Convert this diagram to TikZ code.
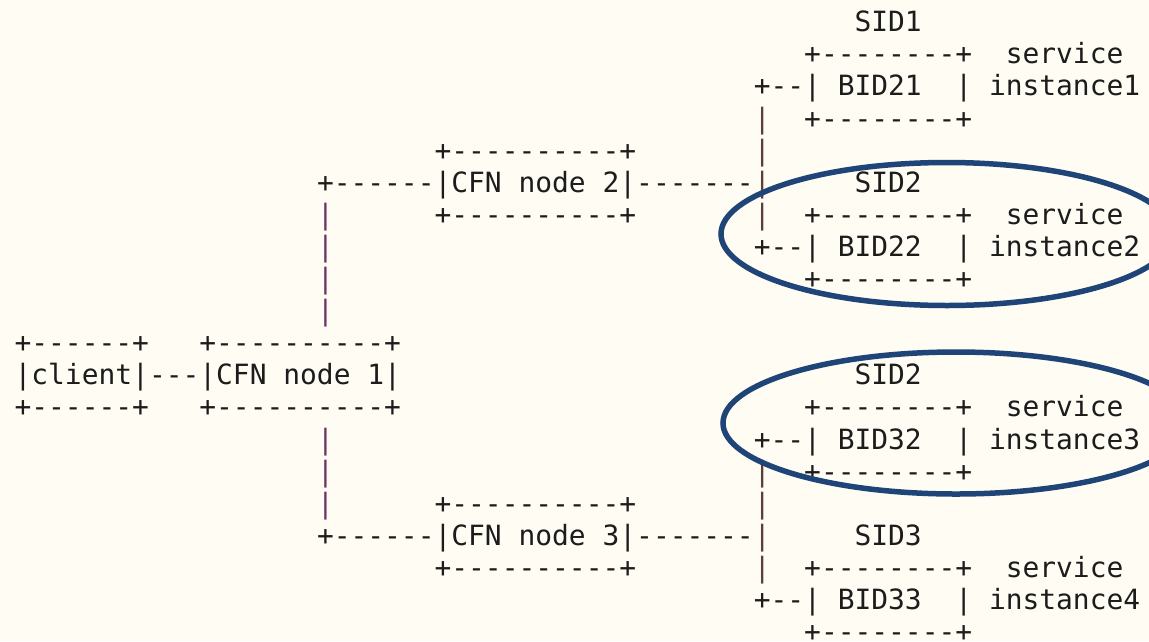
\documentclass[tikz,border=0pt]{standalone}
\usepackage{fontspec}
\setmonofont{DejaVu Sans Mono}
\definecolor{paper}{HTML}{FFFCF3}
\definecolor{ink}{HTML}{1C1C1C}
\definecolor{barpurple}{HTML}{6E3468}
\definecolor{barbrown}{HTML}{5A403C}
\definecolor{ringblue}{HTML}{1F4478}
\tikzset{
  asc/.style={anchor=base west, inner sep=0pt, outer sep=0pt, text=ink,
    font=\ttfamily\fontsize{27.9}{32.1}\selectfont},
  lbar/.style={asc, text=barpurple},
  rbar/.style={asc, text=barbrown},
  ring/.style={draw=ringblue, line width=5.5pt},
}
% one run of monospaced characters: name, column, row, text
\newcommand\asc[5][]{\node[asc,#1] (#2) at ({14.6+16.8*(#3)},{31.7+32.1*(#4)}) {#5};}
\begin{document}
\begin{tikzpicture}[x=1pt,y=-1pt]
\useasboundingbox (0,0) rectangle (1149,641);
\fill[paper] (0,0) rectangle (1149,641);
\clip (0,0) rectangle (1149,641);

% client and CFN node 1
\asc{clt}{0}{10}{+------+}
\asc{clm}{0}{11}{|client|}
\asc{clb}{0}{12}{+------+}
\asc{cln}{8}{11}{---}
\asc{n1t}{11}{10}{+----------+}
\asc{n1m}{11}{11}{|CFN~node~1|}
\asc{n1b}{11}{12}{+----------+}

% branch up to CFN node 2
\asc{upa}{18}{5}{+------}
\asc[lbar]{upb}{18}{6}{|}
\asc[lbar]{upc}{18}{7}{|}
\asc[lbar]{upd}{18}{8}{|}
\asc[lbar]{upe}{18}{9}{|}

% branch down to CFN node 3
\asc[lbar]{dna}{18}{13}{|}
\asc[lbar]{dnb}{18}{14}{|}
\asc[lbar]{dnc}{18}{15}{|}
\asc{dnd}{18}{16}{+------}

% CFN node 2
\asc{n2t}{25}{4}{+----------+}
\asc{n2m}{25}{5}{|CFN~node~2|}
\asc{n2b}{25}{6}{+----------+}
\asc{n2r}{37}{5}{-------}

% CFN node 3
\asc{n3t}{25}{15}{+----------+}
\asc{n3m}{25}{16}{|CFN~node~3|}
\asc{n3b}{25}{17}{+----------+}
\asc{n3r}{37}{16}{-------}

% upper trunk
\asc{tua}{44}{2}{+--}
\asc[rbar]{tub}{44}{3}{|}
\asc[rbar]{tuc}{44}{4}{|}
\asc[rbar]{tud}{44}{5}{|}
\asc[rbar]{tue}{44}{6}{|}
\asc{tuf}{44}{7}{+--}

% lower trunk
\asc{tla}{44}{13}{+--}
\asc[rbar]{tlb}{44}{14}{|}
\asc[rbar]{tlc}{44}{15}{|}
\asc[rbar]{tld}{44}{16}{|}
\asc[rbar]{tle}{44}{17}{|}
\asc{tlf}{44}{18}{+--}

% service instance 1
\asc{sida}{50}{0}{SID1}
\asc{b21t}{47}{1}{+--------+}
\asc{b21m}{47}{2}{|~BID21~~|}
\asc{b21b}{47}{3}{+--------+}
\asc{sva}{59}{1}{service}
\asc{ina}{58}{2}{instance1}

% service instance 2
\asc{sidb}{50}{5}{SID2}
\asc{b22t}{47}{6}{+--------+}
\asc{b22m}{47}{7}{|~BID22~~|}
\asc{b22b}{47}{8}{+--------+}
\asc{svb}{59}{6}{service}
\asc{inb}{58}{7}{instance2}

% service instance 3
\asc{sidc}{50}{11}{SID2}
\asc{b32t}{47}{12}{+--------+}
\asc{b32m}{47}{13}{|~BID32~~|}
\asc{b32b}{47}{14}{+--------+}
\asc{svc}{59}{12}{service}
\asc{inc}{58}{13}{instance3}

% service instance 4
\asc{sidd}{50}{16}{SID3}
\asc{b33t}{47}{17}{+--------+}
\asc{b33m}{47}{18}{|~BID33~~|}
\asc{b33b}{47}{19}{+--------+}
\asc{svd}{59}{17}{service}
\asc{ind}{58}{18}{instance4}

% highlight rings around the SID2 instances
\draw[ring] (947,234) ellipse [x radius=226, y radius=71.5];
\draw[ring] (956,423) ellipse [x radius=233, y radius=71];
\end{tikzpicture}
\end{document}
